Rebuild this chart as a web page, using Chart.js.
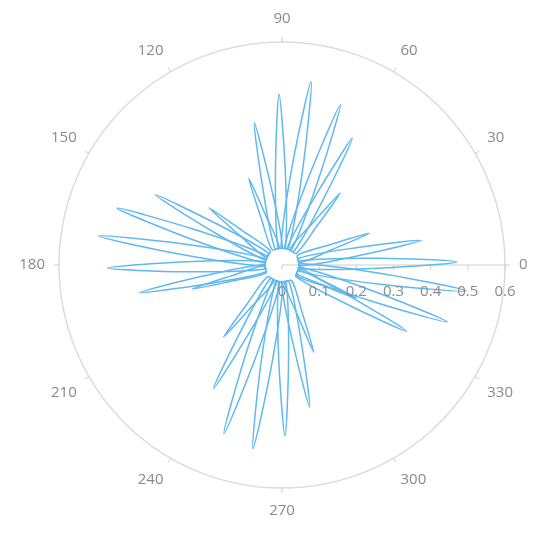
<!DOCTYPE html>
<html><head><meta charset="utf-8">
<script src="https://cdn.jsdelivr.net/npm/chart.js@4"></script>
<style>html,body{margin:0;padding:0;background:#fff}#w{width:553px;height:535px}</style>
</head><body><div id="w"><canvas id="c"></canvas></div>
<script>
// petal tip angles (degrees, counter-clockwise from 0) and tip radii
const petalAngles = [1,10,-8,-19,-28,-24,20, 81,91,70,61,101,51,111, 171,181,161,191,151,195,142, 261,271,251,241,281,231,290];
const petalRadii  = [0.47,0.38,0.50,0.47,0.38,0.22,0.25, 0.50,0.46,0.46,0.39,0.39,0.25,0.25, 0.50,0.47,0.47,0.39,0.39,0.25,0.25, 0.50,0.46,0.48,0.38,0.39,0.25,0.25];
const radialTicks = [0,0.1,0.2,0.3,0.4,0.5,0.6];
const angleTicks = [0,30,60,90,120,150,180,210,240,270,300,330];

const N = 360;
const labels = [];
for (let i = 0; i < N; i++) labels.push((90 - i + 360) % 360);
const idx = a => ((Math.round(90 - a) % 360) + 360) % 360;
const COLOR = '#5fb8ee';
const datasets = petalAngles.map((a, k) => {
  const d = new Array(N).fill(null);
  const r = petalRadii[k];
  d[idx(a + 12)] = 0.05;
  d[idx(a + 3)] = r * 0.55;
  d[idx(a)] = r;
  d[idx(a - 3)] = r * 0.55;
  d[idx(a - 12)] = 0.05;
  return {data: d, spanGaps: true, fill: false, backgroundColor: COLOR, borderColor: COLOR, borderWidth: 1.5, pointRadius: 0, tension: 0.3};
});
datasets.forEach(ds => { ds.fill = 'stack'; });

const deco = {
  id: 'deco',
  beforeDatasetsDraw(chart) {
    const s = chart.scales.r, ctx = chart.ctx;
    const R = s.drawingArea;
    ctx.save();
    ctx.strokeStyle = '#cfcfcf'; ctx.lineWidth = 1;
    ctx.beginPath(); ctx.moveTo(s.xCenter, s.yCenter); ctx.lineTo(s.xCenter + R, s.yCenter); ctx.stroke();
    radialTicks.forEach(v => {
      const x = s.xCenter + s.getDistanceFromCenterForValue(v);
      ctx.beginPath(); ctx.moveTo(x, s.yCenter); ctx.lineTo(x, s.yCenter + 5); ctx.stroke();
    });
    angleTicks.forEach(a => {
      const t = a * Math.PI / 180;
      ctx.beginPath();
      ctx.moveTo(s.xCenter + R * Math.cos(t), s.yCenter - R * Math.sin(t));
      ctx.lineTo(s.xCenter + (R + 5) * Math.cos(t), s.yCenter - (R + 5) * Math.sin(t));
      ctx.stroke();
    });
    ctx.restore();
  },
  afterDatasetsDraw(chart) {
    const s = chart.scales.r, ctx = chart.ctx;
    ctx.save();
    ctx.fillStyle = '#8a8a8a'; ctx.font = '15px "Open Sans"';
    ctx.textAlign = 'center'; ctx.textBaseline = 'top';
    radialTicks.forEach(v => {
      const x = s.xCenter + s.getDistanceFromCenterForValue(v);
      ctx.fillText(String(v), x, s.yCenter + 19);
    });
    ctx.restore();
  }
};

new Chart(document.getElementById('c'), {
  type: 'radar',
  data: {labels, datasets},
  plugins: [deco],
  options: {
    responsive: true, maintainAspectRatio: false, animation: false,
    layout: {padding: {top: 10, bottom: 14, left: 2, right: 8}},
    plugins: {legend: {display: false}, tooltip: {enabled: false}, filler: {propagate: false}},
    scales: {
      r: {
        min: 0, max: 0.6,
        ticks: {display: false, stepSize: 0.1},
        angleLines: {display: false},
        grid: {circular: true, color: ctx => (ctx.tick && ctx.tick.value >= 0.6 - 1e-9) ? '#dcdcdc' : 'rgba(0,0,0,0)', lineWidth: 1.5},
        pointLabels: {
          callback: l => (l % 30 === 0 ? String(l) : ''),
          color: '#8a8a8a', font: {size: 15, family: '"Open Sans"'}, padding: 14
        }
      }
    }
  }
});
</script></body></html>
